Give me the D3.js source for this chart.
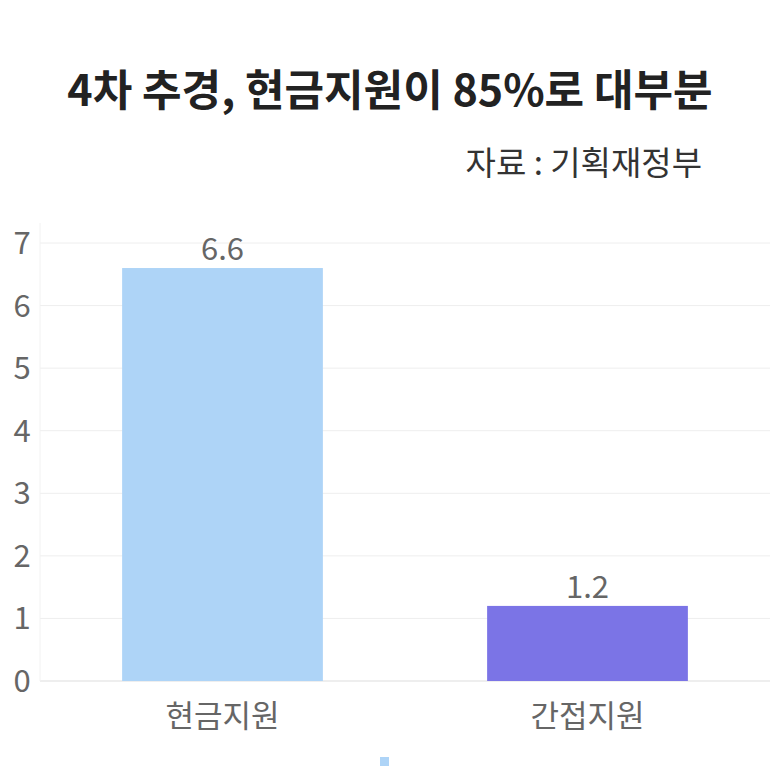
<!DOCTYPE html>
<html><head><meta charset="utf-8">
<script src="https://cdn.jsdelivr.net/npm/d3@7"></script>
<style>body{margin:0;background:#fff}text{font-family:"Noto Sans CJK KR","Noto Sans",sans-serif}</style>
</head><body><div id="vis"></div>
<script>
var categories = ["현금지원", "간접지원"],
    values = [6.6, 1.2],
    colors = ["#aed4f7", "#7b74e6"],
    ticks = [0, 1, 2, 3, 4, 5, 6, 7];

var width = 780, height = 780,
    plotLeft = 40, plotRight = 770, plotTop = 243, plotBottom = 681;

var svg = d3.select("#vis").append("svg")
    .attr("width", width).attr("height", height);

svg.append("text").attr("x", 390).attr("y", 106).attr("text-anchor", "middle")
    .attr("font-size", 43).attr("font-weight", "bold").attr("fill", "#222")
    .text("4차 추경, 현금지원이 85%로 대부분");
svg.append("text").attr("x", 702).attr("y", 175).attr("text-anchor", "end")
    .attr("font-size", 33).attr("fill", "#333").text("자료 : 기획재정부");

var x = d3.scaleBand().domain(categories).range([plotLeft, plotRight])
    .paddingInner(0.45).paddingOuter(0.225);
var y = d3.scaleLinear().domain([0, 7]).range([plotBottom, plotTop]);

// grid
svg.selectAll(".grid").data(ticks).enter().append("line")
    .attr("x1", plotLeft).attr("x2", plotRight)
    .attr("y1", function(d){return y(d)}).attr("y2", function(d){return y(d)})
    .attr("stroke", function(d){return d == 0 ? "#ddd" : "#eee"});
svg.append("line").attr("x1", plotLeft).attr("x2", plotLeft).attr("y1", plotTop - 20).attr("y2", plotBottom)
    .attr("stroke", "#f2f2f2");

svg.selectAll(".tick").data(ticks).enter().append("text")
    .attr("x", 22).attr("y", function(d){return y(d) + 11})
    .attr("text-anchor", "middle").attr("font-size", 31).attr("fill", "#666")
    .text(function(d){return d});

svg.selectAll(".bar").data(values).enter().append("rect")
    .attr("x", function(d, i){return x(categories[i])})
    .attr("width", x.bandwidth())
    .attr("y", function(d){return y(d)})
    .attr("height", function(d){return y(0) - y(d)})
    .attr("fill", function(d, i){return colors[i]});

svg.selectAll(".val").data(values).enter().append("text")
    .attr("x", function(d, i){return x(categories[i]) + x.bandwidth() / 2})
    .attr("y", function(d){return y(d) - 8})
    .attr("text-anchor", "middle").attr("font-size", 31).attr("fill", "#666")
    .text(function(d){return d.toFixed(1)});

svg.selectAll(".cat").data(categories).enter().append("text")
    .attr("x", function(d){return x(d) + x.bandwidth() / 2})
    .attr("y", 727).attr("text-anchor", "middle").attr("font-size", 31).attr("fill", "#666")
    .text(function(d){return d});

svg.append("rect").attr("x", 380).attr("y", 757).attr("width", 9).attr("height", 9)
    .attr("fill", colors[0]);
</script></body></html>
